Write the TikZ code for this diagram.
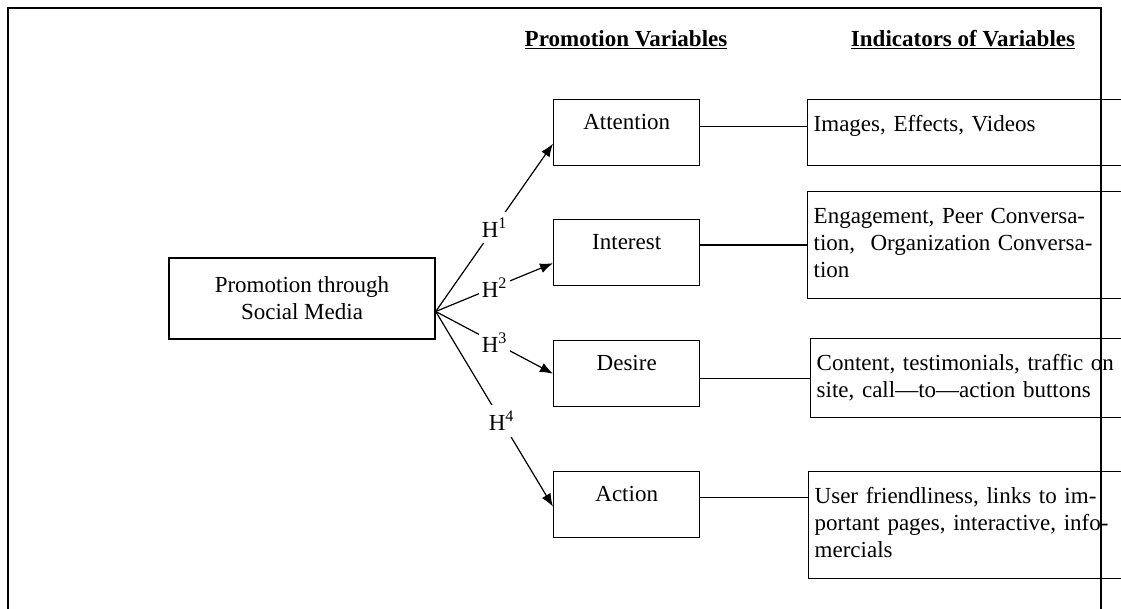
\documentclass[tikz,border=0pt]{standalone}
\usepackage{fontspec}
\setmainfont{Liberation Serif}
\usepackage{tikz}
\usetikzlibrary{positioning, arrows.meta, calc}

\tikzset{
  varbox/.style={draw, line width=1.4pt, anchor=north west, minimum width=146pt,
    inner xsep=0pt, inner ysep=0pt, text height=30pt, text depth=36pt},
  indbox/.style={draw, line width=1.4pt, anchor=north west, text width=320pt,
    align=left, inner xsep=6pt, inner ysep=0pt, text height=32pt},
  hyp/.style={fill=white, inner xsep=3pt, inner ysep=6pt},
  head/.style={font=\fontsize{23}{27}\selectfont\bfseries},
  fanarrow/.style={line width=1.2pt, -{Latex[length=13pt,width=10pt]}},
}

\begin{document}
\begin{tikzpicture}[x=1pt, y=-1pt, font=\fontsize{23}{27}\selectfont]
        \useasboundingbox (0,0) rectangle (1121,609);
        \clip (0,0) rectangle (1121,609);

        % Column headings
        \node[head] (hvar) at (626,40) {\underline{Promotion Variables}};
        \node[head] (hind) at (963,40) {\underline{Indicators of Variables}};

        % Main box
        \node[draw, line width=1.4pt, align=center, minimum width=266pt, minimum height=81pt]
          (promo) at (302,298.5) {Promotion through\\Social Media};
        \coordinate (fan) at ([yshift=-13pt]promo.east);

        % Promotion variables
        \node[varbox] (att) at (553,99) {Attention};
        \node[varbox] (int) at (553,219) {Interest};
        \node[varbox] (des) at (553,340) {Desire};
        \node[varbox] (act) at (553,471) {Action};

        % Indicators
        \node[indbox, text depth=34pt] (img) at (807,99) {Images, Effects, Videos};
        \node[indbox, text depth=75pt] (eng) at (807,191)
          {Engagement, Peer Conversa-\\tion,\ \ Organization Conversa-\\tion};
        \node[indbox, text depth=47pt] (con) at (810,338)
          {Content, testimonials, traffic on\\site, call—to—action buttons};
        \node[indbox, text depth=75pt] (usr) at (808,471)
          {User friendliness, links to im-\\portant pages, interactive, info-\\mercials};

        % Hypotheses
        \draw[fanarrow] (fan) -- node[hyp] {H\textsuperscript{1}} ([yshift=-11pt]att.west);
        \draw[fanarrow] (fan) -- node[hyp] {H\textsuperscript{2}} ([yshift=-10.5pt]int.west);
        \draw[fanarrow] (fan) -- node[hyp] {H\textsuperscript{3}} (des.west);
        \draw[fanarrow] (fan) -- node[hyp, pos=0.56] {H\textsuperscript{4}} ([yshift=-2pt]act.west);

        % Links to indicators
        \draw[line width=1.4pt] (att.east) ++(0,-6) coordinate (l1) -- (l1 -| img.west);
        \draw[line width=1.4pt] (int.east |- eng.west) -- (eng.west);
        \draw[line width=1.4pt] (des.east |- con.west) -- (con.west);
        \draw[line width=1.4pt] (act.east) ++(0,-7) coordinate (l4) -- (l4 -| usr.west);

        % Frame
        \draw[line width=2.2pt] (8,615) -- (8,8) -- (1101,8) -- (1101,615);
      \end{tikzpicture}
\end{document}
